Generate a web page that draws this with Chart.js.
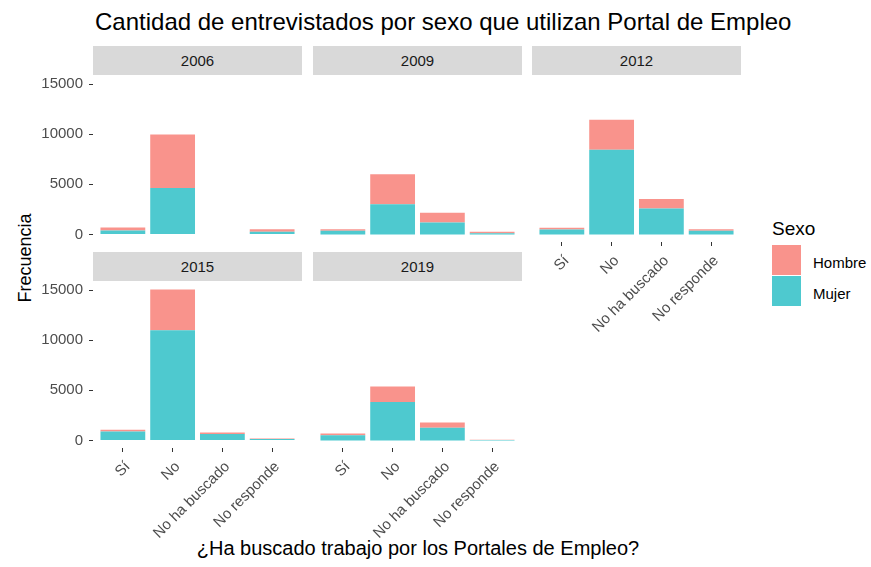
<!DOCTYPE html>
<html>
<head>
<meta charset="utf-8">
<script src="https://cdn.jsdelivr.net/npm/chart.js@4.4.1/dist/chart.umd.min.js"></script>
<style>
  body { margin: 0; background: #fff; width: 871px; height: 567px; position: relative; overflow: hidden;
         font-family: "Liberation Sans", Arial, sans-serif; }
  canvas { position: absolute; }
  .txt { position: absolute; white-space: nowrap; line-height: 1; }
  .strip { position: absolute; background: #d9d9d9; color: #1a1a1a; font-size: 15px;
           text-align: center; height: 29px; line-height: 29px; }
  .key { position: absolute; width: 29px; height: 30px; }
</style>
</head>
<body>
<div class="txt" id="titulo" style="left:95px; top:10px; font-size:24px; color:#000;">Cantidad de entrevistados por sexo que utilizan Portal de Empleo</div>
<div class="txt" id="ytitulo" style="left:25px; top:258px; font-size:18px; color:#000; transform: translate(-50%,-50%) rotate(-90deg);">Frecuencia</div>
<div class="txt" id="xtitulo" style="left:418px; top:538px; font-size:20px; color:#000; transform: translateX(-50%);">¿Ha buscado trabajo por los Portales de Empleo?</div>

<div class="txt" style="left:772px; top:219px; font-size:19px; color:#000;">Sexo</div>
<div class="key" style="left:772px; top:245px; background:#f9938c;"></div>
<div class="key" style="left:772px; top:276px; background:#4ec9cf;"></div>
<div class="txt" style="left:813px; top:255px; font-size:15px; color:#000;">Hombre</div>
<div class="txt" style="left:813px; top:286px; font-size:15px; color:#000;">Mujer</div>

<script>
// Datos
const categorias = ['Sí', 'No', 'No ha buscado', 'No responde'];
const yTicks = [0, 5000, 10000, 15000];

const mujer2006 = [400, 4630, 0, 280];
const hombre2006 = [300, 5340, 0, 230];
const mujer2009 = [370, 3000, 1200, 110];
const hombre2009 = [140, 3000, 970, 160];
const mujer2012 = [500, 8450, 2600, 370];
const hombre2012 = [170, 3000, 930, 140];
const mujer2015 = [900, 11000, 650, 150];
const hombre2015 = [170, 4050, 150, 40];
const mujer2019 = [530, 3830, 1270, 50];
const hombre2019 = [170, 1540, 530, 20];

const colorMujer = '#4ec9cf';
const colorHombre = '#f9938c';
const fuente = '"Liberation Sans", Arial, sans-serif';

// paneles (facet_wrap, 3 columnas)
const PW = 209, PH = 166;
const paneles = [
  { anio: '2006', mujer: mujer2006, hombre: hombre2006, left: 93,  top: 76,  yAxis: true,  xAxis: false },
  { anio: '2009', mujer: mujer2009, hombre: hombre2009, left: 313, top: 76,  yAxis: false, xAxis: false },
  { anio: '2012', mujer: mujer2012, hombre: hombre2012, left: 532, top: 76,  yAxis: false, xAxis: true },
  { anio: '2015', mujer: mujer2015, hombre: hombre2015, left: 93,  top: 282, yAxis: true,  xAxis: true },
  { anio: '2019', mujer: mujer2019, hombre: hombre2019, left: 313, top: 282, yAxis: false, xAxis: true }
];

// escala y comun con la expansion de ggplot (5%)
let maxTotal = 0;
paneles.forEach(p => p.mujer.forEach((v, i) => { maxTotal = Math.max(maxTotal, v + p.hombre[i]); }));
const yMin = -0.05 * maxTotal;
const yMax = 1.05 * maxTotal;

function dibujarPanel(p) {
  const padTop = 10;
  const axW = p.yAxis ? 70 : 0;
  const axH = p.xAxis ? 110 : 0;

  // strip
  const strip = document.createElement('div');
  strip.className = 'strip';
  strip.style.left = p.left + 'px';
  strip.style.top = (p.top - 30) + 'px';
  strip.style.width = PW + 'px';
  strip.textContent = p.anio;
  document.body.appendChild(strip);

  const canvas = document.createElement('canvas');
  canvas.width = PW + axW;
  canvas.height = padTop + PH + axH;
  canvas.style.left = (p.left - axW) + 'px';
  canvas.style.top = (p.top - padTop) + 'px';
  document.body.appendChild(canvas);

  new Chart(canvas, {
    type: 'bar',
    data: {
      datasets: [{
        label: 'Mujer',
        data: p.mujer.map((v, i) => ({ x: i + 1, y: v })),
        backgroundColor: colorMujer
      }, {
        label: 'Hombre',
        data: p.hombre.map((v, i) => ({ x: i + 1, y: v })),
        backgroundColor: colorHombre
      }]
    },
    options: {
      responsive: false,
      animation: false,
      layout: { padding: { top: padTop, left: 0, right: 0, bottom: 0 } },
      plugins: {
        legend: { display: false },
        tooltip: { enabled: false }
      },
      datasets: {
        bar: { categoryPercentage: 1, barPercentage: 0.9, borderWidth: 0 }
      },
      scales: {
        x: {
          type: 'linear',
          stacked: true,
          offset: false,
          min: 0.4,
          max: 4.6,
          display: p.xAxis,
          afterBuildTicks: s => { s.ticks = categorias.map((c, i) => ({ value: i + 1 })); },
          afterFit: s => { s.height = axH; s.paddingLeft = 0; s.paddingRight = 0; },
          grid: { offset: false, drawOnChartArea: false, tickLength: 4, color: '#333333' },
          border: { display: false },
          ticks: {
            autoSkip: false,
            maxRotation: 45,
            minRotation: 45,
            padding: 6,
            labelOffset: 5,
            color: '#4d4d4d',
            font: { family: fuente, size: 15 },
            callback: v => categorias[v - 1] || ''
          }
        },
        y: {
          stacked: true,
          min: yMin,
          max: yMax,
          display: p.yAxis,
          afterBuildTicks: s => { s.ticks = yTicks.map(v => ({ value: v })); },
          afterFit: s => { s.width = axW; s.paddingTop = 0; s.paddingBottom = 0; },
          grid: { drawOnChartArea: false, tickLength: 4, color: '#333333' },
          border: { display: false },
          ticks: {
            padding: 6,
            color: '#4d4d4d',
            font: { family: fuente, size: 15 },
            callback: v => String(v)
          }
        }
      }
    }
  });
}

paneles.forEach(dibujarPanel);
</script>
</body>
</html>
